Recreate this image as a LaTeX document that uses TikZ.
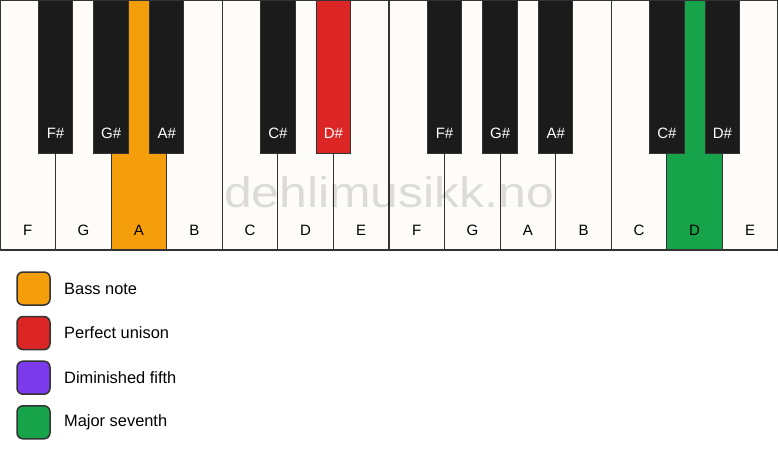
\documentclass[tikz,border=0pt]{standalone}
\usepackage{fontspec}
\setmainfont{Liberation Sans}
\newfontfamily\wmfont[FakeStretch=1.16]{Liberation Sans}
\definecolor{keywhite}{HTML}{FDFCF9}
\definecolor{keyblack}{HTML}{1B1B1B}
\definecolor{keyline}{HTML}{333333}
\definecolor{cbass}{HTML}{F59E0B}
\definecolor{cunison}{HTML}{DC2626}
\definecolor{cdim}{HTML}{7C3AED}
\definecolor{cseventh}{HTML}{16A34A}
\tikzset{
  wkey/.style={draw=keyline, line width=1.2pt, fill=keywhite, anchor=north west, minimum width=55.571pt, minimum height=250pt, inner sep=0pt, outer sep=0pt},
  bkey/.style={draw=keyline, line width=1pt, fill=keyblack, anchor=north west, minimum width=34.5pt, minimum height=153pt, inner sep=0pt, outer sep=0pt},
  wlabel/.style={font=\fontsize{15}{18}\selectfont, text=black, inner sep=0pt},
  blabel/.style={font=\fontsize{15}{18}\selectfont, text=white, inner sep=0pt},
  legbox/.style={draw=keyline, line width=1.5pt, rounded corners=6pt, minimum size=33pt, inner sep=0pt},
  legtext/.style={font=\fontsize{16.4}{19}\selectfont, anchor=west, inner sep=0pt},
  watermark/.style={font=\wmfont\fontsize{43}{48}\selectfont, text=black, opacity=0.13, inner sep=0pt, anchor=base}
}
\begin{document}
\begin{tikzpicture}[x=1pt,y=-1pt]
\useasboundingbox (0,0) rectangle (778,461);
\fill[white] (0,0) rectangle (778,461);
% white keys
\foreach \n/\c [count=\i from 0] in {F/keywhite,G/keywhite,A/cbass,B/keywhite,C/keywhite,D/keywhite,E/keywhite,F/keywhite,G/keywhite,A/keywhite,B/keywhite,C/keywhite,D/cseventh,E/keywhite}{
  \node[wkey, fill=\c] (w\i) at ({\i*55.571},0) {};
  \node[wlabel] (wl\i) at ({(\i+0.5)*55.571},230) {\n};
}
% watermark
\node[watermark] (wm) at (389,207) {dehlimusikk.no};
% black keys
\foreach \b/\n/\c in {1/F\#/keyblack,2/G\#/keyblack,3/A\#/keyblack,5/C\#/keyblack,6/D\#/cunison,8/F\#/keyblack,9/G\#/keyblack,10/A\#/keyblack,12/C\#/keyblack,13/D\#/keyblack}{
  \node[bkey, fill=\c] (b\b) at ({\b*55.571-17.25},0) {};
  \node[blabel] (bl\b) at ({\b*55.571},133) {\n};
}
% legend
\foreach \t/\c [count=\k from 0] in {Bass note/cbass,Perfect unison/cunison,Diminished fifth/cdim,Major seventh/cseventh}{
  \node[legbox, fill=\c] (lb\k) at (33.5,{288.5+\k*44.6}) {};
  \node[legtext] (lt\k) at (64,{288.5+\k*44.6}) {\t};
}
\end{tikzpicture}
\end{document}
